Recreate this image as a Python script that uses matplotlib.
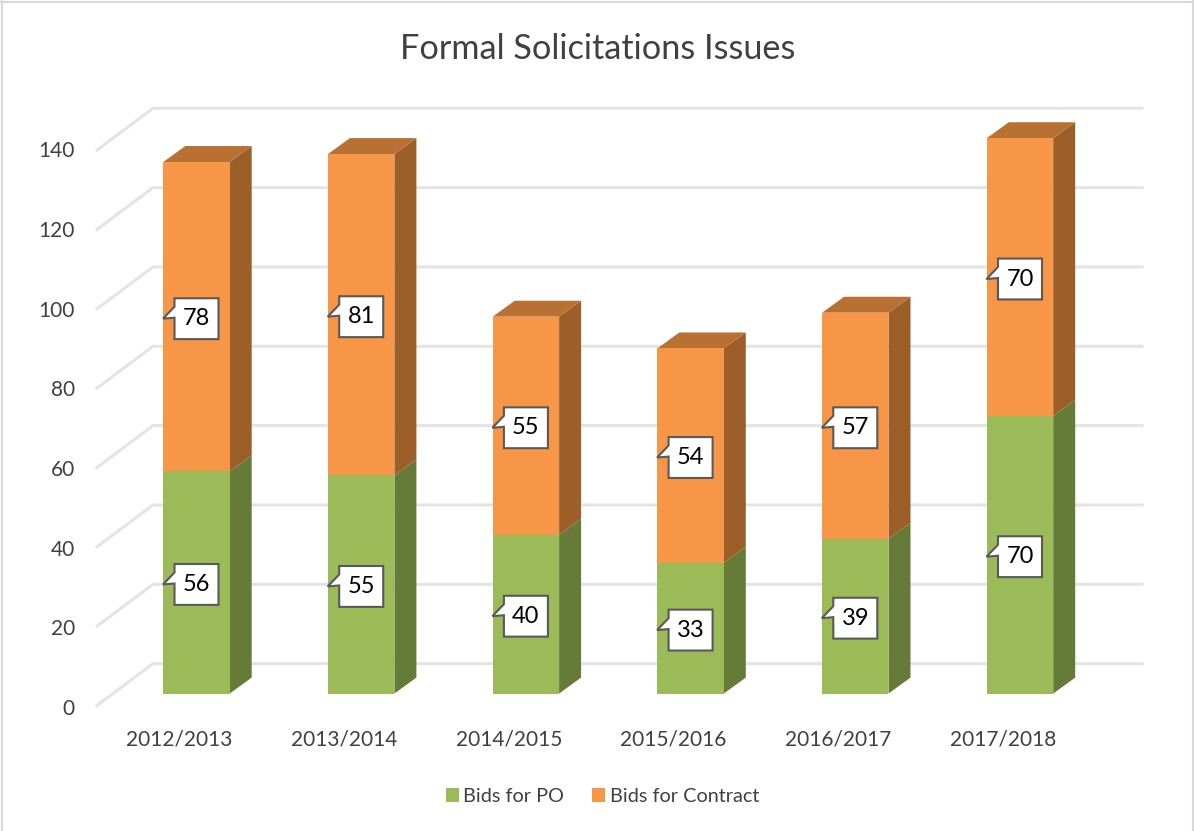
import numpy as np
import matplotlib
matplotlib.use("Agg")
import matplotlib.pyplot as plt
from matplotlib.lines import Line2D
from matplotlib.patches import Polygon, Rectangle

years = ["2012/2013", "2013/2014", "2014/2015", "2015/2016", "2016/2017", "2017/2018"]
bids_po = [56, 55, 40, 33, 39, 70]
bids_contract = [78, 81, 55, 54, 57, 70]
yticks = [0, 20, 40, 60, 80, 100, 120, 140]

W, H = 1194, 831
plt.rcParams["font.family"] = ["Lato", "DejaVu Sans"]

# pixel scale of the chart
px_cat = 164.7
px_val = 3.98
x0_px = 196.5
y0_px = 695.5

def dx(p):
    return p / px_cat

def dy(p):
    return p / px_val

fig = plt.figure(figsize=(W / 100, H / 100), dpi=100)
left, right, top, bottom = 97, 1142, 100, 707
ax = fig.add_axes([left / W, 1 - bottom / H, (right - left) / W, (bottom - top) / H])
ax.set_xlim((left - x0_px) / px_cat, (right - x0_px) / px_cat)
ax.set_ylim((y0_px - bottom) / px_val, (y0_px - top) / px_val)
for s in ax.spines.values():
    s.set_visible(False)

# back wall and floor lines
grid_col = "#E4E4E4"
back_x = (153 - x0_px) / px_cat
back_y = dy(30)
front_x = (97 - x0_px) / px_cat
front_y = dy(-12)
for v in yticks:
    ax.plot([front_x, back_x, ax.get_xlim()[1]], [v + front_y, v + back_y, v + back_y],
            color=grid_col, lw=2.2, solid_joinstyle="miter", clip_on=False, zorder=1)

# stacked pseudo 3d bars
half = dx(33.2)
dep_x = dx(22)
dep_y = dy(16)

def bar3d(i, y1, y2, front, side, top_col=None):
    xl, xr = i - half, i + half
    ax.add_patch(Polygon([(xr, y1), (xr + dep_x, y1 + dep_y), (xr + dep_x, y2 + dep_y), (xr, y2)],
                         fc=side, ec="none", zorder=3))
    ax.add_patch(Rectangle((xl, y1), xr - xl, y2 - y1, fc=front, ec="none", zorder=4))
    if top_col:
        ax.add_patch(Polygon([(xl, y2), (xl + dep_x, y2 + dep_y), (xr + dep_x, y2 + dep_y), (xr, y2)],
                             fc=top_col, ec="none", zorder=3))

def callout(i, yc, val):
    bw, bh = 22, 20.5
    yc = yc - dy(2)
    pts = [(-bw, -12), (-bw, -bh), (bw, -bh), (bw, bh), (-bw, bh), (-bw, -1), (-33.5, 0)]
    pts = [(i + dx(a), yc - dy(b)) for a, b in pts]
    ax.add_patch(Polygon(pts, closed=True, fc="white", ec="#595959", lw=1.5, zorder=6, joinstyle="miter"))
    ax.text(i, yc, str(val), ha="center", va="center", fontsize=17, color="black", zorder=7)

for i in range(len(years)):
    po = bids_po[i]
    con = bids_contract[i]
    bar3d(i, 0, po, "#9BBB59", "#667B38")
    bar3d(i, po, po + con, "#F79646", "#9C5F2A", "#B97133")
    callout(i, po / 2, po)
    callout(i, po + con / 2, con)

h1 = Rectangle((0, 0), 1, 1, fc="#9BBB59")
h2 = Rectangle((0, 0), 1, 1, fc="#F79646")
fig.legend([h1, h2], ["Bids for PO", "Bids for Contract"], loc="center", ncol=2,
           bbox_to_anchor=(602.5 / W, 1 - 796.5 / H), frameon=False, fontsize=14.3,
           handlelength=0.65, handleheight=0.65, handletextpad=0.25, columnspacing=1.4,
           labelcolor="#404040")

ax.set_xticks(np.arange(len(years)) - dx(17))
ax.set_xticklabels(years, fontsize=15, color="#404040")
ax.set_yticks(np.array(yticks) * 1.004 + dy(-13) - dy(1.5) + dy(1))
ax.set_yticklabels([str(v) for v in yticks], fontsize=15, color="#404040")
ax.tick_params(axis="both", length=0)
ax.tick_params(axis="y", pad=16)
ax.tick_params(axis="x", pad=16.5)

fig.text(598 / W, 1 - 49 / H, "Formal Solicitations Issues", ha="center", va="center",
         fontsize=24.7, color="#404040")

# chart frame, no bottom edge in the crop
for xs, ys in [([1.5, 1.5], [0, H]), ([0, W], [1.5, 1.5]), ([1192.8, 1192.8], [0, H])]:
    fig.add_artist(Line2D(np.array(xs) / W, 1 - np.array(ys) / H, color="#D9D9D9", lw=1.5))

fig.savefig("out.png", dpi=100)
